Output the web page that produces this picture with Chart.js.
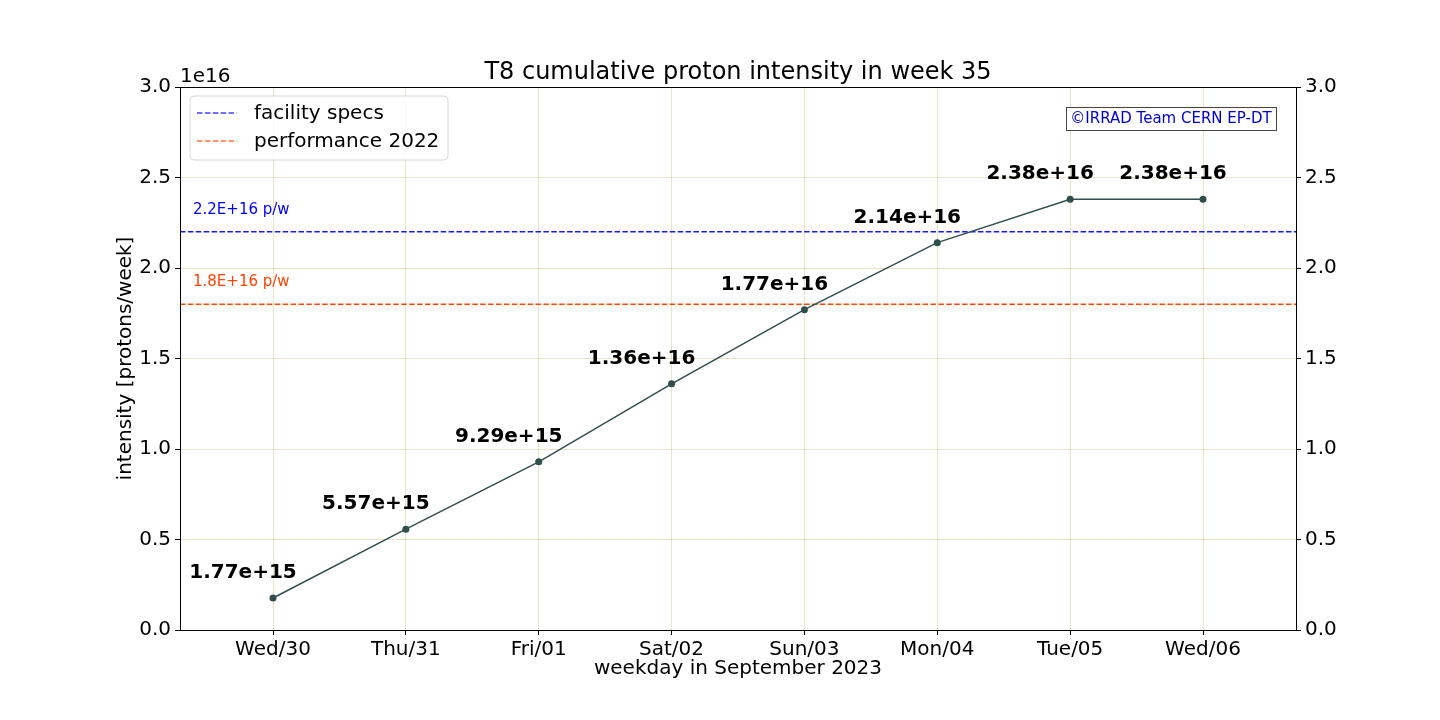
<!DOCTYPE html>
<html><head><meta charset="utf-8">
<script src="https://cdn.jsdelivr.net/npm/chart.js@4/dist/chart.umd.min.js"></script>
<style>html,body{margin:0;padding:0;background:#fff}#wrap{width:1440px;height:720px}</style>
</head><body><div id="wrap"><canvas id="c" width="1440" height="720"></canvas></div>
<script>
const categories = ["Wed/30","Thu/31","Fri/01","Sat/02","Sun/03","Mon/04","Tue/05","Wed/06"];
const intensity = [1.77e15, 5.57e15, 9.29e15, 1.36e16, 1.77e16, 2.14e16, 2.38e16, 2.38e16];
const valueLabels = ["1.77e+15","5.57e+15","9.29e+15","1.36e+16","1.77e+16","2.14e+16","2.38e+16","2.38e+16"];
const facilitySpec = 2.2e16;
const performance2022 = 1.8e16;
const yTicks = [0, 0.5e16, 1.0e16, 1.5e16, 2.0e16, 2.5e16, 3.0e16];
const xMin = -0.7, xMax = 7.7;

const FONT = "'DejaVu Sans', sans-serif";
const gridColor = "rgba(222,200,140,0.5)";

const lineData = intensity.map((v,i)=>({x:i,y:v}));
const specData = [{x:xMin,y:facilitySpec},{x:xMax,y:facilitySpec}];
const perfData = [{x:xMin,y:performance2022},{x:xMax,y:performance2022}];

const deco = {
  id:'deco',
  afterDatasetsDraw(chart){
    const ctx = chart.ctx, ca = chart.chartArea;
    const xs = chart.scales.x, ys = chart.scales.y;
    ctx.save();
    ctx.strokeStyle = '#000'; ctx.lineWidth = 1;
    ctx.strokeRect(Math.round(ca.left)+0.5, Math.round(ca.top)+0.5, Math.round(ca.right-ca.left), Math.round(ca.bottom-ca.top));
    ctx.fillStyle = '#000';
    ctx.font = "bold 20px " + FONT;
    ctx.textAlign = 'center'; ctx.textBaseline = 'middle';
    intensity.forEach((v,i)=>{
      ctx.fillText(valueLabels[i], xs.getPixelForValue(i)-30, ys.getPixelForValue(v)-25);
    });
    ctx.font = "15px " + FONT;
    ctx.textAlign = 'left';
    ctx.fillStyle = '#0000ff';
    ctx.fillText("2.2E+16 p/w", ca.left+13, ys.getPixelForValue(facilitySpec)-22);
    ctx.fillStyle = '#ff4500';
    ctx.fillText("1.8E+16 p/w", ca.left+13, ys.getPixelForValue(performance2022)-22);
    ctx.fillStyle = '#000';
    ctx.font = "24px " + FONT;
    ctx.textAlign = 'center';
    ctx.fillText("T8 cumulative proton intensity in week 35", (ca.left+ca.right)/2, 73);
    ctx.font = "20px " + FONT;
    ctx.fillText("weekday in September 2023", (ca.left+ca.right)/2, 669);
    ctx.save();
    ctx.translate(126, (ca.top+ca.bottom)/2);
    ctx.rotate(-Math.PI/2);
    ctx.fillText("intensity [protons/week]", 0, 0);
    ctx.restore();
    ctx.textAlign = 'left';
    ctx.fillText("1e16", ca.left, 77);
    // legend
    const lx=190, ly=96, lw=258, lh=64, r=4;
    ctx.beginPath();
    ctx.moveTo(lx+r,ly); ctx.lineTo(lx+lw-r,ly); ctx.quadraticCurveTo(lx+lw,ly,lx+lw,ly+r);
    ctx.lineTo(lx+lw,ly+lh-r); ctx.quadraticCurveTo(lx+lw,ly+lh,lx+lw-r,ly+lh);
    ctx.lineTo(lx+r,ly+lh); ctx.quadraticCurveTo(lx,ly+lh,lx,ly+lh-r);
    ctx.lineTo(lx,ly+r); ctx.quadraticCurveTo(lx,ly,lx+r,ly); ctx.closePath();
    ctx.fillStyle='rgba(255,255,255,0.8)'; ctx.fill();
    ctx.strokeStyle='#d6d6d6'; ctx.lineWidth=1; ctx.stroke();
    ctx.setLineDash([5.5,2.4]); ctx.lineWidth=1.5;
    ctx.strokeStyle='rgba(0,0,255,0.75)';
    ctx.beginPath(); ctx.moveTo(197,113); ctx.lineTo(237,113); ctx.stroke();
    ctx.strokeStyle='rgba(255,69,0,0.75)';
    ctx.beginPath(); ctx.moveTo(197,141); ctx.lineTo(237,141); ctx.stroke();
    ctx.setLineDash([]);
    ctx.fillStyle='#000'; ctx.font = "20px " + FONT;
    ctx.fillText("facility specs", 254, 114);
    ctx.fillText("performance 2022", 254, 142);
    // copyright
    ctx.fillStyle='#fff';
    ctx.fillRect(1066,107,210,23);
    ctx.strokeStyle='#444'; ctx.lineWidth=1;
    ctx.strokeRect(1066.5,107.5,210,23);
    ctx.fillStyle='#0000cc'; ctx.font = "15px " + FONT;
    ctx.textAlign='center';
    ctx.fillText("©IRRAD Team CERN EP-DT", 1171, 119);
    ctx.restore();
  }
};

new Chart(document.getElementById('c'), {
  type:'line',
  data:{datasets:[
    {label:'intensity', data:lineData, borderColor:'#2f4f4f', backgroundColor:'#2f4f4f', borderWidth:1.5, pointRadius:3.5, pointBackgroundColor:'#2f4f4f', pointBorderWidth:0, tension:0},
    {label:'facility specs', data:specData, borderColor:'#1a1aff', borderWidth:1.5, borderDash:[5.5,2.4], pointRadius:0},
    {label:'performance 2022', data:perfData, borderColor:'#ff4500', borderWidth:1.5, borderDash:[5.5,2.4], pointRadius:0}
  ]},
  options:{
    responsive:false, animation:false, devicePixelRatio:1,
    layout:{padding:{top:87,left:0,right:0,bottom:0}},
    plugins:{legend:{display:false}, title:{display:false}, tooltip:{enabled:false}},
    scales:{
      x:{type:'linear', min:xMin, max:xMax,
        afterBuildTicks(s){ s.ticks = categories.map((c,i)=>({value:i})); },
        afterFit(s){ s.height = 90; },
        ticks:{callback:(v)=>categories[v], color:'#000', font:{family:FONT,size:20}, padding:3, maxRotation:0, autoSkip:false},
        grid:{color:gridColor, tickColor:'#000', tickLength:5, drawTicks:true},
        border:{display:false}
      },
      y:{type:'linear', position:'left', min:0, max:3e16,
        afterBuildTicks(s){ s.ticks = yTicks.map(v=>({value:v})); },
        afterFit(s){ s.width = 180; },
        ticks:{callback:(v)=>(v/1e16).toFixed(1), color:'#000', font:{family:FONT,size:20}, padding:4},
        grid:{color:gridColor, tickColor:'#000', tickLength:5},
        border:{display:false}
      },
      y2:{type:'linear', position:'right', min:0, max:3e16,
        afterBuildTicks(s){ s.ticks = yTicks.map(v=>({value:v})); },
        afterFit(s){ s.width = 144; },
        ticks:{callback:(v)=>(v/1e16).toFixed(1), color:'#000', font:{family:FONT,size:20}, padding:4},
        grid:{drawOnChartArea:false, tickColor:'#000', tickLength:5},
        border:{display:false}
      }
    }
  },
  plugins:[deco]
});
</script>
</body></html>
